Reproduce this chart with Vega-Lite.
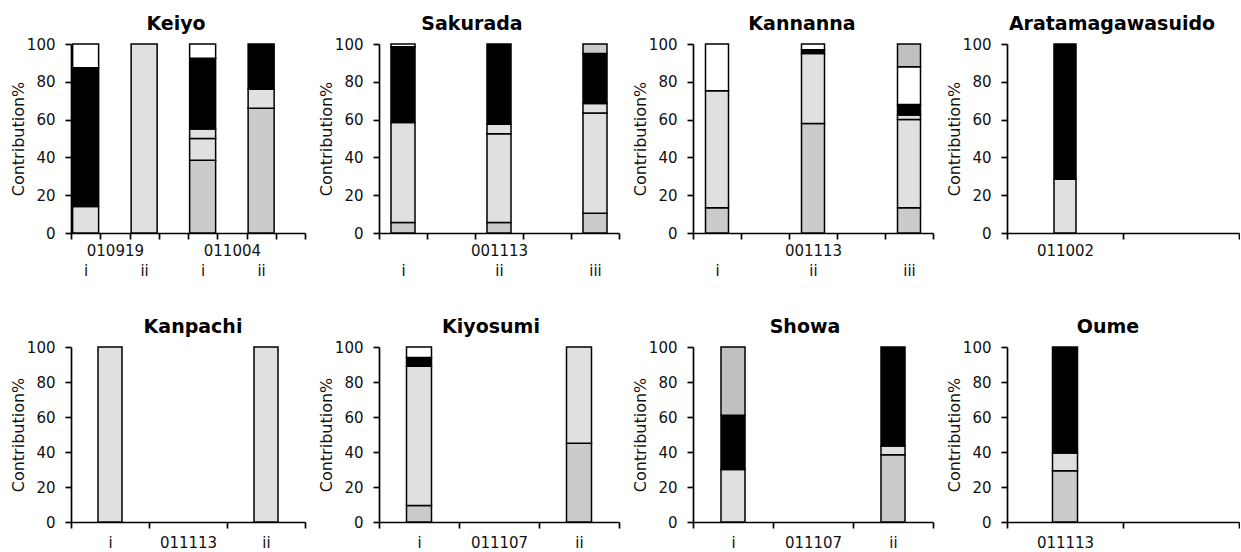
{
  "$schema": "https://vega.github.io/schema/vega-lite/v6.json",
  "padding": {"left": 10, "top": 15, "right": 0, "bottom": 0},
  "data": {"values": [
    {"site": "Keiyo", "sample": "010919|i", "seg": 1, "type": "L", "pct": 14},
    {"site": "Keiyo", "sample": "010919|i", "seg": 2, "type": "B", "pct": 73.5},
    {"site": "Keiyo", "sample": "010919|i", "seg": 3, "type": "W", "pct": 12.5},
    {"site": "Keiyo", "sample": "010919|ii", "seg": 1, "type": "L", "pct": 100},
    {"site": "Keiyo", "sample": "011004|i", "seg": 1, "type": "G", "pct": 38.5},
    {"site": "Keiyo", "sample": "011004|i", "seg": 2, "type": "L", "pct": 11.5},
    {"site": "Keiyo", "sample": "011004|i", "seg": 3, "type": "L", "pct": 5},
    {"site": "Keiyo", "sample": "011004|i", "seg": 4, "type": "B", "pct": 37.5},
    {"site": "Keiyo", "sample": "011004|i", "seg": 5, "type": "W", "pct": 7.5},
    {"site": "Keiyo", "sample": "011004|ii", "seg": 1, "type": "G", "pct": 66},
    {"site": "Keiyo", "sample": "011004|ii", "seg": 2, "type": "L", "pct": 10},
    {"site": "Keiyo", "sample": "011004|ii", "seg": 3, "type": "B", "pct": 24},
    {"site": "Sakurada", "sample": "001113|i", "seg": 1, "type": "G", "pct": 5.5},
    {"site": "Sakurada", "sample": "001113|i", "seg": 2, "type": "L", "pct": 53},
    {"site": "Sakurada", "sample": "001113|i", "seg": 3, "type": "B", "pct": 40},
    {"site": "Sakurada", "sample": "001113|i", "seg": 4, "type": "W", "pct": 1.5},
    {"site": "Sakurada", "sample": "001113|ii", "seg": 1, "type": "G", "pct": 5.5},
    {"site": "Sakurada", "sample": "001113|ii", "seg": 2, "type": "L", "pct": 47},
    {"site": "Sakurada", "sample": "001113|ii", "seg": 3, "type": "L", "pct": 5},
    {"site": "Sakurada", "sample": "001113|ii", "seg": 4, "type": "B", "pct": 42.5},
    {"site": "Sakurada", "sample": "001113|iii", "seg": 1, "type": "G", "pct": 10.5},
    {"site": "Sakurada", "sample": "001113|iii", "seg": 2, "type": "L", "pct": 53},
    {"site": "Sakurada", "sample": "001113|iii", "seg": 3, "type": "L", "pct": 5},
    {"site": "Sakurada", "sample": "001113|iii", "seg": 4, "type": "B", "pct": 26.5},
    {"site": "Sakurada", "sample": "001113|iii", "seg": 5, "type": "G", "pct": 5},
    {"site": "Kannanna", "sample": "001113|i", "seg": 1, "type": "G", "pct": 13.3},
    {"site": "Kannanna", "sample": "001113|i", "seg": 2, "type": "L", "pct": 62},
    {"site": "Kannanna", "sample": "001113|i", "seg": 3, "type": "W", "pct": 24.7},
    {"site": "Kannanna", "sample": "001113|ii", "seg": 1, "type": "G", "pct": 58},
    {"site": "Kannanna", "sample": "001113|ii", "seg": 2, "type": "L", "pct": 37},
    {"site": "Kannanna", "sample": "001113|ii", "seg": 3, "type": "B", "pct": 2},
    {"site": "Kannanna", "sample": "001113|ii", "seg": 4, "type": "W", "pct": 3},
    {"site": "Kannanna", "sample": "001113|iii", "seg": 1, "type": "G", "pct": 13.3},
    {"site": "Kannanna", "sample": "001113|iii", "seg": 2, "type": "L", "pct": 46.7},
    {"site": "Kannanna", "sample": "001113|iii", "seg": 3, "type": "L", "pct": 2.5},
    {"site": "Kannanna", "sample": "001113|iii", "seg": 4, "type": "B", "pct": 5.5},
    {"site": "Kannanna", "sample": "001113|iii", "seg": 5, "type": "W", "pct": 20},
    {"site": "Kannanna", "sample": "001113|iii", "seg": 6, "type": "M", "pct": 12},
    {"site": "Aratamagawasuido", "sample": "011002", "seg": 1, "type": "L", "pct": 28.5},
    {"site": "Aratamagawasuido", "sample": "011002", "seg": 2, "type": "B", "pct": 71.5},
    {"site": "Kanpachi", "sample": "011113|i", "seg": 1, "type": "L", "pct": 100},
    {"site": "Kanpachi", "sample": "011113|ii", "seg": 1, "type": "L", "pct": 100},
    {"site": "Kiyosumi", "sample": "011107|i", "seg": 1, "type": "G", "pct": 9.5},
    {"site": "Kiyosumi", "sample": "011107|i", "seg": 2, "type": "L", "pct": 79.5},
    {"site": "Kiyosumi", "sample": "011107|i", "seg": 3, "type": "B", "pct": 5},
    {"site": "Kiyosumi", "sample": "011107|i", "seg": 4, "type": "W", "pct": 6},
    {"site": "Kiyosumi", "sample": "011107|ii", "seg": 1, "type": "G", "pct": 45},
    {"site": "Kiyosumi", "sample": "011107|ii", "seg": 2, "type": "L", "pct": 55},
    {"site": "Showa", "sample": "011107|i", "seg": 1, "type": "L", "pct": 30},
    {"site": "Showa", "sample": "011107|i", "seg": 2, "type": "B", "pct": 31},
    {"site": "Showa", "sample": "011107|i", "seg": 3, "type": "M", "pct": 39},
    {"site": "Showa", "sample": "011107|ii", "seg": 1, "type": "G", "pct": 38.5},
    {"site": "Showa", "sample": "011107|ii", "seg": 2, "type": "L", "pct": 5},
    {"site": "Showa", "sample": "011107|ii", "seg": 3, "type": "B", "pct": 56.5},
    {"site": "Oume", "sample": "011113", "seg": 1, "type": "G", "pct": 29.3},
    {"site": "Oume", "sample": "011113", "seg": 2, "type": "L", "pct": 10.2},
    {"site": "Oume", "sample": "011113", "seg": 3, "type": "B", "pct": 60.5}
  ]},
  "columns": 4,
  "spacing": {"row": 114, "column": 74},
  "bounds": "flush",
  "align": "each",
  "concat": [
    {
      "width": 234, "height": 189,
      "title": {"text": "Keiyo", "dx": -12, "offset": 3},
      "transform": [{"filter": "datum.site == 'Keiyo'"}],
      "mark": {"type": "bar", "width": 26, "stroke": "black", "strokeWidth": 1.5},
      "encoding": {
        "x": {"field": "sample", "type": "nominal", "sort": null,
              "scale": {"domain": ["010919|i", "010919", "010919|ii", "_a", "011004|i", "011004", "011004|ii", "_b"], "paddingInner": 0, "paddingOuter": 0},
              "axis": {"title": null, "labelPadding": 4, "labelLineHeight": 20,
                       "labelExpr": "!isString(datum.value) ? '' : (indexof(datum.value,'|')>=0 ? ['', split(datum.value,'|')[1]] : (indexof(datum.value,'_')==0 ? '' : [datum.value]))"}},
        "y": {"field": "pct", "type": "quantitative", "stack": "zero", "scale": {"domain": [0, 100]}, "axis": {"title": "Contribution%", "values": [0, 20, 40, 60, 80, 100]}},
        "fill": {"field": "type", "type": "nominal", "scale": {"domain": ["G", "L", "W", "B", "M"], "range": ["#cbcbcb", "#e0e0e0", "#ffffff", "#000000", "#c0c0c0"]}, "legend": null},
        "order": {"field": "seg", "type": "quantitative"}
      }
    },
    {
      "width": 240, "height": 189,
      "title": {"text": "Sakurada", "dx": -27, "offset": 3},
      "transform": [{"filter": "datum.site == 'Sakurada'"}],
      "mark": {"type": "bar", "width": 24, "stroke": "black", "strokeWidth": 1.5},
      "encoding": {
        "x": {"field": "sample", "type": "nominal", "sort": null,
              "scale": {"domain": ["001113|i", "_a", "001113|ii", "_b", "001113|iii"], "paddingInner": 0, "paddingOuter": 0},
              "axis": {"title": null, "labelPadding": 4, "labelLineHeight": 20,
                       "labelExpr": "!isString(datum.value) ? '' : (datum.value=='001113|ii' ? ['001113', 'ii'] : (indexof(datum.value,'|')>=0 ? ['', split(datum.value,'|')[1]] : ''))"}},
        "y": {"field": "pct", "type": "quantitative", "stack": "zero", "scale": {"domain": [0, 100]}, "axis": {"title": "Contribution%", "values": [0, 20, 40, 60, 80, 100]}},
        "fill": {"field": "type", "type": "nominal", "scale": {"domain": ["G", "L", "W", "B", "M"], "range": ["#cbcbcb", "#e0e0e0", "#ffffff", "#000000", "#c0c0c0"]}, "legend": null},
        "order": {"field": "seg", "type": "quantitative"}
      }
    },
    {
      "width": 240, "height": 189,
      "title": {"text": "Kannanna", "dx": -11, "offset": 3},
      "transform": [{"filter": "datum.site == 'Kannanna'"}],
      "mark": {"type": "bar", "width": 23, "stroke": "black", "strokeWidth": 1.5},
      "encoding": {
        "x": {"field": "sample", "type": "nominal", "sort": null,
              "scale": {"domain": ["001113|i", "_a", "001113|ii", "_b", "001113|iii"], "paddingInner": 0, "paddingOuter": 0},
              "axis": {"title": null, "labelPadding": 4, "labelLineHeight": 20,
                       "labelExpr": "!isString(datum.value) ? '' : (datum.value=='001113|ii' ? ['001113', 'ii'] : (indexof(datum.value,'|')>=0 ? ['', split(datum.value,'|')[1]] : ''))"}},
        "y": {"field": "pct", "type": "quantitative", "stack": "zero", "scale": {"domain": [0, 100]}, "axis": {"title": "Contribution%", "values": [0, 20, 40, 60, 80, 100]}},
        "fill": {"field": "type", "type": "nominal", "scale": {"domain": ["G", "L", "W", "B", "M"], "range": ["#cbcbcb", "#e0e0e0", "#ffffff", "#000000", "#c0c0c0"]}, "legend": null},
        "order": {"field": "seg", "type": "quantitative"}
      }
    },
    {
      "width": 232, "height": 189,
      "title": {"text": "Aratamagawasuido", "dx": -11, "offset": 3},
      "transform": [{"filter": "datum.site == 'Aratamagawasuido'"}],
      "mark": {"type": "bar", "width": 22, "stroke": "black", "strokeWidth": 1.5},
      "encoding": {
        "x": {"field": "sample", "type": "nominal", "sort": null,
              "scale": {"domain": ["011002", "_a"], "paddingInner": 0, "paddingOuter": 0},
              "axis": {"title": null, "labelPadding": 4, "labelLineHeight": 20,
                       "labelExpr": "!isString(datum.value) ? '' : (indexof(datum.value,'_')==0 ? '' : datum.value)"}},
        "y": {"field": "pct", "type": "quantitative", "stack": "zero", "scale": {"domain": [0, 100]}, "axis": {"title": "Contribution%", "values": [0, 20, 40, 60, 80, 100]}},
        "fill": {"field": "type", "type": "nominal", "scale": {"domain": ["G", "L", "W", "B", "M"], "range": ["#cbcbcb", "#e0e0e0", "#ffffff", "#000000", "#c0c0c0"]}, "legend": null},
        "order": {"field": "seg", "type": "quantitative"}
      }
    },
    {
      "width": 234, "height": 175,
      "title": {"text": "Kanpachi", "dx": 5, "offset": 3},
      "transform": [{"filter": "datum.site == 'Kanpachi'"}],
      "mark": {"type": "bar", "width": 24, "stroke": "black", "strokeWidth": 1.5},
      "encoding": {
        "x": {"field": "sample", "type": "nominal", "sort": null,
              "scale": {"domain": ["011113|i", "011113", "011113|ii"], "paddingInner": 0, "paddingOuter": 0},
              "axis": {"title": null, "labelPadding": 7,
                       "labelExpr": "!isString(datum.value) ? '' : (indexof(datum.value,'|')>=0 ? split(datum.value,'|')[1] : datum.value)"}},
        "y": {"field": "pct", "type": "quantitative", "stack": "zero", "scale": {"domain": [0, 100]}, "axis": {"title": "Contribution%", "values": [0, 20, 40, 60, 80, 100]}},
        "fill": {"field": "type", "type": "nominal", "scale": {"domain": ["G", "L", "W", "B", "M"], "range": ["#cbcbcb", "#e0e0e0", "#ffffff", "#000000", "#c0c0c0"]}, "legend": null},
        "order": {"field": "seg", "type": "quantitative"}
      }
    },
    {
      "width": 240, "height": 175,
      "title": {"text": "Kiyosumi", "dx": -8, "offset": 3},
      "transform": [{"filter": "datum.site == 'Kiyosumi'"}],
      "mark": {"type": "bar", "width": 25, "stroke": "black", "strokeWidth": 1.5},
      "encoding": {
        "x": {"field": "sample", "type": "nominal", "sort": null,
              "scale": {"domain": ["011107|i", "011107", "011107|ii"], "paddingInner": 0, "paddingOuter": 0},
              "axis": {"title": null, "labelPadding": 7,
                       "labelExpr": "!isString(datum.value) ? '' : (indexof(datum.value,'|')>=0 ? split(datum.value,'|')[1] : datum.value)"}},
        "y": {"field": "pct", "type": "quantitative", "stack": "zero", "scale": {"domain": [0, 100]}, "axis": {"title": "Contribution%", "values": [0, 20, 40, 60, 80, 100]}},
        "fill": {"field": "type", "type": "nominal", "scale": {"domain": ["G", "L", "W", "B", "M"], "range": ["#cbcbcb", "#e0e0e0", "#ffffff", "#000000", "#c0c0c0"]}, "legend": null},
        "order": {"field": "seg", "type": "quantitative"}
      }
    },
    {
      "width": 240, "height": 175,
      "title": {"text": "Showa", "dx": -8, "offset": 3},
      "transform": [{"filter": "datum.site == 'Showa'"}],
      "mark": {"type": "bar", "width": 24, "stroke": "black", "strokeWidth": 1.5},
      "encoding": {
        "x": {"field": "sample", "type": "nominal", "sort": null,
              "scale": {"domain": ["011107|i", "011107", "011107|ii"], "paddingInner": 0, "paddingOuter": 0},
              "axis": {"title": null, "labelPadding": 7,
                       "labelExpr": "!isString(datum.value) ? '' : (indexof(datum.value,'|')>=0 ? split(datum.value,'|')[1] : datum.value)"}},
        "y": {"field": "pct", "type": "quantitative", "stack": "zero", "scale": {"domain": [0, 100]}, "axis": {"title": "Contribution%", "values": [0, 20, 40, 60, 80, 100]}},
        "fill": {"field": "type", "type": "nominal", "scale": {"domain": ["G", "L", "W", "B", "M"], "range": ["#cbcbcb", "#e0e0e0", "#ffffff", "#000000", "#c0c0c0"]}, "legend": null},
        "order": {"field": "seg", "type": "quantitative"}
      }
    },
    {
      "width": 232, "height": 175,
      "title": {"text": "Oume", "dx": -15, "offset": 3},
      "transform": [{"filter": "datum.site == 'Oume'"}],
      "mark": {"type": "bar", "width": 25, "stroke": "black", "strokeWidth": 1.5},
      "encoding": {
        "x": {"field": "sample", "type": "nominal", "sort": null,
              "scale": {"domain": ["011113", "_a"], "paddingInner": 0, "paddingOuter": 0},
              "axis": {"title": null, "labelPadding": 7,
                       "labelExpr": "!isString(datum.value) ? '' : (indexof(datum.value,'_')==0 ? '' : datum.value)"}},
        "y": {"field": "pct", "type": "quantitative", "stack": "zero", "scale": {"domain": [0, 100]}, "axis": {"title": "Contribution%", "values": [0, 20, 40, 60, 80, 100]}},
        "fill": {"field": "type", "type": "nominal", "scale": {"domain": ["G", "L", "W", "B", "M"], "range": ["#cbcbcb", "#e0e0e0", "#ffffff", "#000000", "#c0c0c0"]}, "legend": null},
        "order": {"field": "seg", "type": "quantitative"}
      }
    }
  ],
  "resolve": {"scale": {"fill": "shared"}},
  "config": {
    "font": "DejaVu Sans",
    "view": {"stroke": null},
    "title": {"font": "DejaVu Sans", "fontSize": 19, "fontWeight": "bold", "color": "#000000", "anchor": "middle", "frame": "group", "baseline": "alphabetic"},
    "axis": {
      "grid": false,
      "domainColor": "#000000", "domainWidth": 1.7,
      "tickColor": "#000000", "tickWidth": 1.7, "tickSize": 6,
      "labelColor": "#111111", "labelFont": "DejaVu Sans", "labelFontSize": 15,
      "titleColor": "#111111", "titleFont": "DejaVu Sans", "titleFontSize": 16, "titleFontWeight": "normal"
    },
    "axisX": {"labelAngle": 0, "tickBand": "extent", "labelBaseline": "top"},
    "axisY": {"labelPadding": 10, "titlePadding": 0}
  }
}
